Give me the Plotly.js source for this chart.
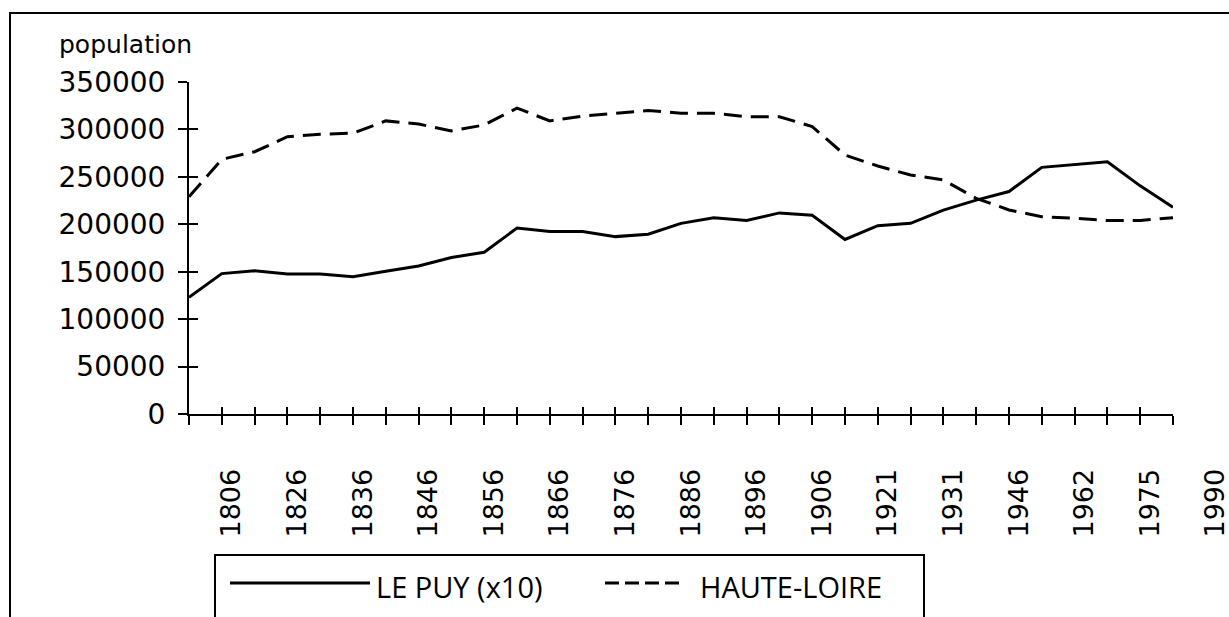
<!DOCTYPE html>
<html>
<head>
<meta charset="utf-8">
<script src="https://cdn.plot.ly/plotly-3.0.1.min.js"></script>
<style>html,body{margin:0;padding:0;background:#fff;}#chart{width:1229px;height:617px;}</style>
</head>
<body>
<div id="chart"></div>
<script>
// Census years used for the plotted points
const dataYears = ['1806','1821','1826','1831','1836','1841','1846','1851','1856','1861','1866','1872','1876','1881','1886','1891','1896','1901','1906','1911','1921','1926','1931','1936','1946','1954','1962','1968','1975','1982','1990'];
// All census years of the category scale (label axis)
const allYears = ['1801','1806','1821','1826','1831','1836','1841','1846','1851','1856','1861','1866','1872','1876','1881','1886','1891','1896','1901','1906','1911','1921','1926','1931','1936','1946','1954','1962','1968','1975','1982','1990'];
// Tick labels shown under the axis
const tickLabels = ['1806','1826','1836','1846','1856','1866','1876','1886','1896','1906','1921','1931','1946','1962','1975','1990'];
// Series
const lePuyX10 = [123000,148000,151000,147500,147500,144700,150400,156000,165000,170500,196000,192500,192500,187000,189500,201000,207000,204000,212000,209500,184000,198500,201000,215000,225500,234500,260000,263000,266000,240500,218000];
const hauteLoire = [229000,268500,276500,292300,295000,296000,309000,305700,298500,304700,322500,309000,314000,317000,320000,317000,317000,313400,313400,303000,273000,261400,252000,246700,227400,215100,208000,206300,204000,204000,207000];
const seriesNames = ['LE PUY (x10)', 'HAUTE-LOIRE'];
const yTitle = 'population';

// layout helpers (pixel -> paper)
const L = 189, R = 1229, T = 82, B = 414;
const px = p => (p - L) / (R - L);
const py = p => (B - p) / (B - T);
const nData = dataYears.length;
const unit = (1173 - L) / (nData - 1);
const labelShift = 0.3;

const tickFont = {family: 'DejaVu Sans', size: 28, color: '#000'};
const xTickFont = {family: 'DejaVu Sans', size: 27, color: '#000'};
const labelPos = tickLabels.map(t => allYears.indexOf(t));
const idx = dataYears.map((_, i) => i);
const empty = arr => arr.map(() => null);

const traces = [
  {x: dataYears, y: lePuyX10, name: seriesNames[0], type: 'scatter', mode: 'lines',
   line: {color: '#000', width: 3}, xaxis: 'x', yaxis: 'y', showlegend: false},
  {x: dataYears, y: hauteLoire, name: seriesNames[1], type: 'scatter', mode: 'lines',
   line: {color: '#000', width: 3, dash: '18px,9px'}, xaxis: 'x', yaxis: 'y', showlegend: false},
  // helper (empty) traces so the tick-only axes are drawn
  {x: labelPos, y: empty(labelPos), type: 'scatter', mode: 'lines', xaxis: 'x2', yaxis: 'y',
   showlegend: false, hoverinfo: 'skip'},
  {x: idx, y: empty(idx), type: 'scatter', mode: 'lines', xaxis: 'x3', yaxis: 'y',
   showlegend: false, hoverinfo: 'skip'},
  {x: dataYears, y: empty(dataYears), type: 'scatter', mode: 'lines', xaxis: 'x', yaxis: 'y2',
   showlegend: false, hoverinfo: 'skip'}
];

const xDomainEnd = (1173 - L) / (R - L);

const layout = {
  width: 1229, height: 617,
  margin: {l: L, r: 1229 - R, t: T, b: 617 - B, pad: 0},
  paper_bgcolor: '#fff', plot_bgcolor: 'rgba(0,0,0,0)',
  showlegend: false,
  xaxis: {
    type: 'category', categoryorder: 'array', categoryarray: dataYears,
    domain: [0, xDomainEnd], anchor: 'y', range: [0, nData - 1],
    tickmode: 'array', tickvals: dataYears, showticklabels: false,
    ticks: 'outside', ticklen: 9, tickwidth: 2, tickcolor: '#000',
    showline: true, linecolor: '#000', linewidth: 2,
    showgrid: false, zeroline: false, automargin: false, fixedrange: true
  },
  xaxis3: {
    type: 'linear', overlaying: 'x', anchor: 'y', range: [0, nData - 1],
    tickmode: 'array', tickvals: idx, showticklabels: false,
    ticks: 'inside', ticklen: 7, tickwidth: 2, tickcolor: '#000',
    showline: false, showgrid: false, zeroline: false, automargin: false
  },
  xaxis2: {
    type: 'linear', domain: [0, 1], anchor: 'y',
    range: [-labelShift, -labelShift + (R - L) / unit],
    tickmode: 'array', tickvals: labelPos, ticktext: tickLabels,
    tickangle: -90, tickfont: xTickFont, ticklabeloverflow: 'allow',
    ticks: 'outside', ticklen: 43, tickcolor: 'rgba(0,0,0,0)',
    showline: false, showgrid: false, zeroline: false, automargin: false
  },
  yaxis: {
    domain: [0, 1], anchor: 'x', range: [0, 350000],
    tickmode: 'linear', tick0: 0, dtick: 50000, tickformat: 'd',
    tickfont: tickFont,
    ticks: 'outside', ticklen: 9, tickwidth: 2, tickcolor: '#000',
    ticklabelstandoff: 7,
    showline: true, linecolor: '#000', linewidth: 2,
    showgrid: false, zeroline: false, automargin: false, fixedrange: true
  },
  yaxis2: {
    overlaying: 'y', anchor: 'x', side: 'left', range: [0, 350000],
    tickmode: 'linear', tick0: 0, dtick: 50000, showticklabels: false,
    ticks: 'inside', ticklen: 9, tickwidth: 2, tickcolor: '#000',
    showline: false, showgrid: false, zeroline: false, automargin: false
  },
  annotations: [
    {xref: 'paper', yref: 'paper', x: px(57), y: py(45), xanchor: 'left', yanchor: 'middle',
     text: yTitle, showarrow: false, font: {family: 'DejaVu Sans', size: 25, color: '#000'}},
    {xref: 'paper', yref: 'paper', x: px(374), y: py(586), xanchor: 'left', yanchor: 'middle',
     text: seriesNames[0], showarrow: false, font: {family: 'Open Sans', size: 29, color: '#000'}},
    {xref: 'paper', yref: 'paper', x: px(698), y: py(586), xanchor: 'left', yanchor: 'middle',
     text: seriesNames[1], showarrow: false, font: {family: 'Open Sans', size: 29, color: '#000'}}
  ],
  shapes: [
    {type: 'rect', xref: 'paper', yref: 'paper', x0: px(10), y0: py(13), x1: px(1260), y1: py(680),
     line: {color: '#000', width: 2}, fillcolor: 'rgba(0,0,0,0)'},
    {type: 'rect', xref: 'paper', yref: 'paper', x0: px(215), y0: py(555), x1: px(924), y1: py(680),
     line: {color: '#000', width: 2}, fillcolor: 'rgba(0,0,0,0)'},
    {type: 'line', xref: 'paper', yref: 'paper', x0: px(230), x1: px(370), y0: py(583), y1: py(583),
     line: {color: '#000', width: 3}},
    {type: 'line', xref: 'paper', yref: 'paper', x0: px(605), x1: px(680), y0: py(583), y1: py(583),
     line: {color: '#000', width: 3, dash: '14px,6px'}}
  ]
};

Plotly.newPlot('chart', traces, layout, {staticPlot: true, displayModeBar: false});
</script>
</body>
</html>
